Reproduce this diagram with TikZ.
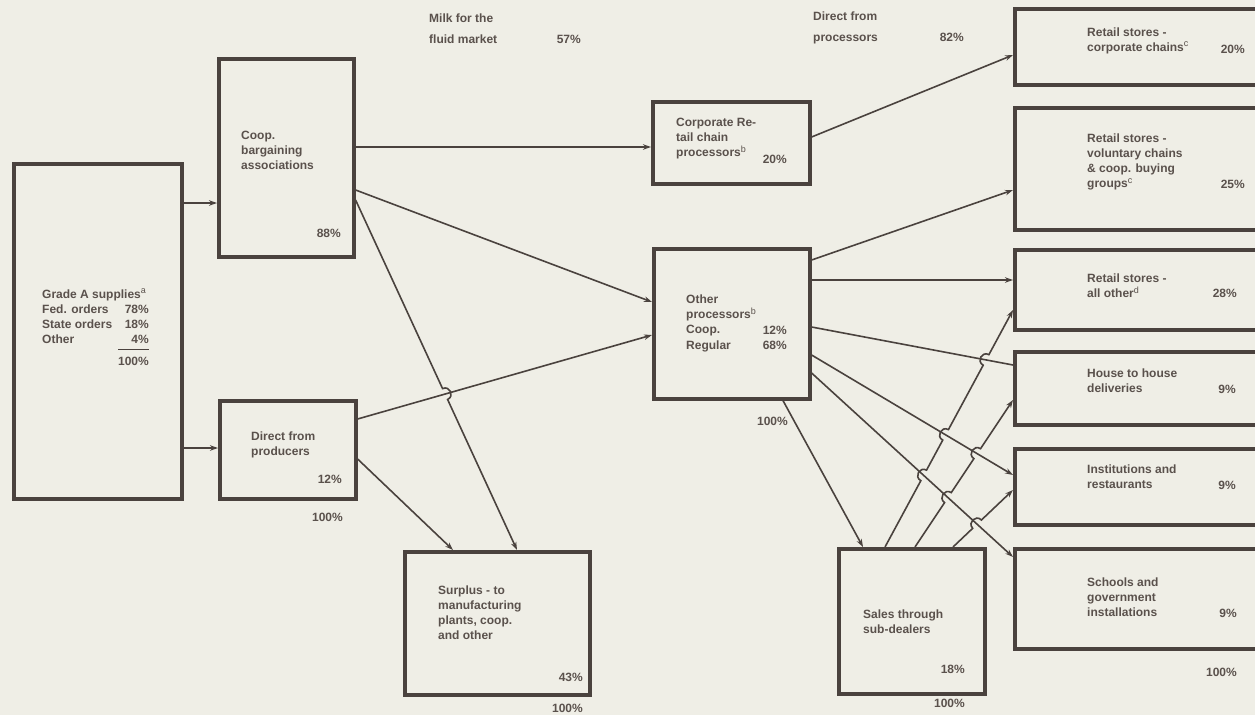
\documentclass[tikz,border=0pt]{standalone}
\usepackage{fontspec}
\setmainfont{Liberation Sans}
\usetikzlibrary{calc,intersections,arrows.meta}
\definecolor{paper}{HTML}{EFEEE6}
\definecolor{ink}{HTML}{4A423E}
\definecolor{txt}{HTML}{5A514C}
\tikzset{
  box/.style={draw=ink, line width=3.6pt, anchor=north west, inner sep=0pt, outer sep=1.8pt},
  conn/.style={draw=ink, line width=1.6pt},
  arr/.style={conn, -{Stealth[length=8pt,width=5.5pt]}},
  lbl/.style={anchor=base west, inner sep=0pt, text=txt, font=\fontsize{12}{15.3}\selectfont\bfseries},
  lblr/.style={lbl, anchor=base east},
}
\newcommand\lns[1]{\begin{tabular}[t]{@{}l@{}}#1\end{tabular}}
\newcommand\sups[1]{\textsuperscript{\mdseries\fontsize{9}{9}\selectfont #1}}
\newcommand\hopat[3]{-- ($(#1)!6pt!(#2)$) .. controls ($(#1)!6pt!(#2)!8pt!90:(#1)$) and ($(#1)!6pt!(#3)!8pt!-90:(#1)$) .. ($(#1)!6pt!(#3)$)}
\begin{document}
\begin{tikzpicture}[x=1pt,y=-1pt]
\useasboundingbox (0,0) rectangle (1255,715);
\fill[paper] (0,0) rectangle (1255,715);
\clip (0,0) rectangle (1255,715);
% boxes
\node[box, minimum width=168pt, minimum height=335pt] (ga) at (12,162) {};
\node[box, minimum width=135pt, minimum height=198pt] (coop) at (217,57) {};
\node[box, minimum width=136pt, minimum height=98pt] (dp) at (218,399) {};
\node[box, minimum width=185pt, minimum height=143pt] (sur) at (403,550) {};
\node[box, minimum width=157pt, minimum height=82pt] (crp) at (651,100) {};
\node[box, minimum width=156pt, minimum height=150pt] (op) at (652,247) {};
\node[box, minimum width=146pt, minimum height=145pt] (sd) at (837,547) {};
\node[box, minimum width=262pt, minimum height=76pt] (r1) at (1013,7) {};
\node[box, minimum width=262pt, minimum height=122pt] (r2) at (1013,106) {};
\node[box, minimum width=262pt, minimum height=80pt] (r3) at (1013,248) {};
\node[box, minimum width=262pt, minimum height=73pt] (r4) at (1013,350) {};
\node[box, minimum width=262pt, minimum height=76pt] (r5) at (1013,447) {};
\node[box, minimum width=262pt, minimum height=100pt] (r6) at (1013,547) {};
% texts
\node[lbl] (ga1) at (42,298) {Grade A supplies\sups{a}};
\node[lbl] (ga2) at (42,313) {Fed. orders};
\node[lblr] (ga2p) at (149,313) {78\%};
\node[lbl] (ga3) at (42,328) {State orders};
\node[lblr] (ga3p) at (149,328) {18\%};
\node[lbl] (ga4) at (42,343) {Other};
\node[lblr] (ga4p) at (149,343) {4\%};
\draw[ink, line width=1pt] (118,349) -- (149,349);
\node[lblr] (ga5p) at (149,365) {100\%};
\node[lbl] (coopt) at (241,139) {\lns{Coop.\\bargaining\\associations}};
\node[lblr] (coopp) at (341,237) {88\%};
\node[lbl] (dpt) at (251,440) {\lns{Direct from\\producers}};
\node[lblr] (dpp) at (342,483) {12\%};
\node[lblr] (dpq) at (343,521) {100\%};
\node[lbl] (surt) at (438,594) {\lns{Surplus - to\\manufacturing\\plants, coop.\\and other}};
\node[lblr] (surp) at (583,681) {43\%};
\node[lblr] (surq) at (583,712) {100\%};
\node[lbl] (milk1) at (429,22) {Milk for the};
\node[lbl] (milk2) at (429,43) {fluid market};
\node[lblr] (milkp) at (581,43) {57\%};
\node[lbl] (dfp1) at (813,20) {Direct from};
\node[lbl] (dfp2) at (813,41) {processors};
\node[lblr] (dfpp) at (964,41) {82\%};
\node[lbl] (crpt) at (676,126) {\lns{Corporate Re-\\tail chain\\processors\sups{b}}};
\node[lblr] (crpp) at (787,163) {20\%};
\node[lbl] (opt) at (686,303) {\lns{Other\\processors\sups{b}\\Coop.\\Regular}};
\node[lblr] (opp1) at (787,334) {12\%};
\node[lblr] (opp2) at (787,349) {68\%};
\node[lblr] (opq) at (788,425) {100\%};
\node[lbl] (sdt) at (863,618) {\lns{Sales through\\sub-dealers}};
\node[lblr] (sdp) at (965,673) {18\%};
\node[lblr] (sdq) at (965,707) {100\%};
\node[lbl] (r1t) at (1087,36) {\lns{Retail stores -\\corporate chains\sups{c}}};
\node[lblr] (r1p) at (1245,53) {20\%};
\node[lbl] (r2t) at (1087,142) {\lns{Retail stores -\\voluntary chains\\\& coop. buying\\groups\sups{c}}};
\node[lblr] (r2p) at (1245,188) {25\%};
\node[lbl] (r3t) at (1087,282) {\lns{Retail stores -\\all other\sups{d}}};
\node[lblr] (r3p) at (1237,297) {28\%};
\node[lbl] (r4t) at (1087,377) {\lns{House to house\\deliveries}};
\node[lblr] (r4p) at (1236,393) {9\%};
\node[lbl] (r5t) at (1087,473) {\lns{Institutions and\\restaurants}};
\node[lblr] (r5p) at (1236,489) {9\%};
\node[lbl] (r6t) at (1087,586) {\lns{Schools and\\government\\installations}};
\node[lblr] (r6p) at (1237,617) {9\%};
\node[lblr] (r6q) at (1237,676) {100\%};
% connector end points
\coordinate (s5) at (coop.east |- 0,200);
\coordinate (e5) at (517,0 |- sur.north);
\coordinate (s6) at (dp.east |- 0,419);
\coordinate (e6) at (op.west |- 0,335);
\coordinate (s11) at (op.east |- 0,327);
\coordinate (e11) at (r4.west |- 0,365);
\coordinate (s12) at (op.east |- 0,355);
\coordinate (e12) at (r5.west |- 0,475);
\coordinate (s13) at (op.east |- 0,373);
\coordinate (e13) at (r6.west |- 0,557);
\coordinate (s15) at (885,0 |- sd.north);
\coordinate (e15) at (r3.west |- 0,310);
\coordinate (s16) at (915,0 |- sd.north);
\coordinate (e16) at (r4.west |- 0,400);
\coordinate (s17) at (953,0 |- sd.north);
\coordinate (e17) at (r5.west |- 0,490);
\path[name path=l5] (s5) -- (e5);
\path[name path=l6] (s6) -- (e6);
\path[name path=l11] (s11) -- (e11);
\path[name path=l12] (s12) -- (e12);
\path[name path=l13] (s13) -- (e13);
\path[name path=l15] (s15) -- (e15);
\path[name path=l16] (s16) -- (e16);
\path[name path=l17] (s17) -- (e17);
\path[name intersections={of=l5 and l6, by={x56}}];
\path[name intersections={of=l15 and l11, by={x1511}}];
\path[name intersections={of=l15 and l12, by={x1512}}];
\path[name intersections={of=l15 and l13, by={x1513}}];
\path[name intersections={of=l16 and l12, by={x1612}}];
\path[name intersections={of=l16 and l13, by={x1613}}];
\path[name intersections={of=l17 and l13, by={x1713}}];
% connectors
\draw[arr] (ga.east |- 0,203) -- (coop.west |- 0,203);
\draw[arr] (ga.east |- 0,448) -- (dp.west |- 0,448);
\draw[arr] (coop.east |- 0,147) -- (crp.west |- 0,147);
\draw[arr] (coop.east |- 0,190) -- (op.west |- 0,302);
\draw[arr] (s6) -- (e6);
\draw[arr] (s5) \hopat{x56}{s5}{e5} -- (e5);
\draw[arr] (dp.east |- 0,459) -- (453,0 |- sur.north);
\draw[arr] (crp.east |- 0,137) -- (r1.west |- 0,55);
\draw[arr] (op.east |- 0,260) -- (r2.west |- 0,190);
\draw[arr] (op.east |- 0,280) -- (r3.west |- 0,280);
\draw[conn] (s11) -- (e11);
\draw[arr] (s12) -- (e12);
\draw[arr] (s13) -- (e13);
\draw[arr] (783,0 |- op.south) -- (863,0 |- sd.north);
\draw[arr] (s15) \hopat{x1513}{s15}{e15} \hopat{x1512}{s15}{e15} \hopat{x1511}{s15}{e15} -- (e15);
\draw[arr] (s16) \hopat{x1613}{s16}{e16} \hopat{x1612}{s16}{e16} -- (e16);
\draw[arr] (s17) \hopat{x1713}{s17}{e17} -- (e17);
\end{tikzpicture}
\end{document}
